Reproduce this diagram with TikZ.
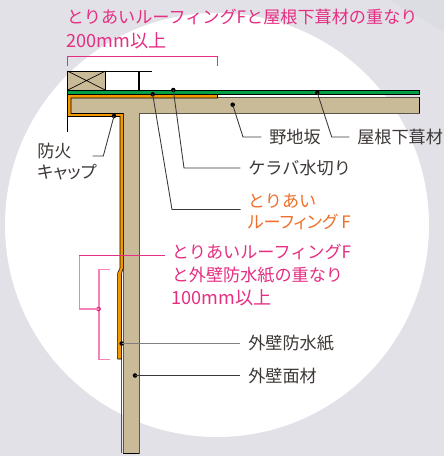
\documentclass[tikz,border=0pt]{standalone}
\usepackage{fontspec}
\setmainfont{Noto Sans CJK JP}
\definecolor{panelgray}{RGB}{225,225,231}
\definecolor{cornergray}{RGB}{220,221,226}
\definecolor{boardtan}{RGB}{201,187,152}
\definecolor{boardedge}{RGB}{94,85,72}
\definecolor{sheetgreen}{RGB}{0,160,70}
\definecolor{flashorange}{RGB}{243,152,0}
\definecolor{roofingorange}{RGB}{240,110,40}
\definecolor{notepink}{RGB}{230,46,130}
\definecolor{lightpink}{RGB}{244,130,180}
\definecolor{labelgray}{RGB}{60,56,54}
\tikzset{
	blacktext/.style={anchor=west,inner sep=0.75pt,text=labelgray,font=\fontsize{12.85pt}{14pt}\selectfont},
	pinktext/.style={blacktext,text=notepink},
	lengthtext/.style={pinktext,font=\fontsize{13.6pt}{14pt}\selectfont},
	orangetext/.style={blacktext,text=roofingorange},
	leaderdot/.style={circle,fill=black,inner sep=0pt,minimum size=3.4pt},
	leader/.style={draw=labelgray,line width=0.65pt,shorten >=5pt},
}
\begin{document}
\begin{tikzpicture}[x=0.75pt,y=0.75pt,yscale=-1,xscale=1]
		\useasboundingbox (0,0) rectangle (444,456);
		%Background
		\fill [panelgray] (0,0) rectangle (444,456);
		\fill [cornergray] (390,0) -- (444,0) -- (444,32) -- cycle;
		\fill [white] (217,225) circle (212);
		
		%Boards
		\draw [fill=boardtan,draw=boardedge,line width=0.7pt] (70,97.5) -- (419,97.5) -- (419,113.3) -- (139,113.3) -- (139,453) -- (123.3,453) -- (123.3,113.3) -- (70,113.3) -- cycle;
		\draw [black,line width=0.6pt] (419,97.5) -- (419,113.3);
		\draw [black,line width=0.6pt] (123.3,453) -- (139,453);
		%Wall sheet
		\draw [boardedge,line width=0.7pt] (121.3,272) -- (121.3,453);
		%Orange flashing
		\draw [fill=flashorange,draw=black,line width=0.4pt] (67.5,94.5) -- (217.5,94.5) -- (217.5,98) -- (71,98) -- (71,113.5) -- (123.3,113.5) -- (123.3,268) -- (121.7,273) -- (121.7,359) -- (117.7,359) -- (117.7,273) -- (120,268) -- (120,116.5) -- (67.5,116.5) -- cycle;
		%Roof sheet
		\draw [fill=sheetgreen,draw=black,line width=0.35pt] (67.5,90.2) rectangle (419,94.6);
		%Wood block
		\draw [fill=boardtan,draw=black,line width=0.6pt] (67.5,71) rectangle (105.5,90.2);
		\draw [black,line width=0.5pt] (67.5,71) -- (105.5,90.2) (67.5,90.2) -- (105.5,71);
		\draw [black,line width=0.6pt] (105.5,71) -- (152,71);
		\draw [black,line width=0.8pt] (139,71) -- (139,90.2);
		\draw [black,line width=0.6pt] (67.5,116.5) -- (67.5,132);
		
		%Overlap brackets
		\draw [notepink,line width=0.75pt] (67.5,65.7) -- (67.5,56.7) -- (217.5,56.7) -- (217.5,65.7);
		\draw [lightpink,line width=0.9pt] (110,269.3) -- (99,269.3) -- (99,359.3) -- (110,359.3);
		
		% Text Node
		\node [pinktext] (labelRoofOverlap) at (65.5,17.5) {とりあいルーフィングFと屋根下葺材の重なり};
		\node [lengthtext] (labelRoofLength) at (65.5,40.5) {200mm以上};
		\node [blacktext] (labelNoji) at (268,137) {野地坂};
		\node [blacktext] (labelUnderlay) at (356,137) {屋根下葺材};
		\node [blacktext] (labelKeraba) at (247,168) {ケラバ水切り};
		\node [orangetext] (labelTori) at (246.5,201) {とりあい};
		\node [orangetext] (labelRoofing) at (246.5,222) {\addfontfeature{RawFeature=+palt}ルーフィング F};
		\node [blacktext] (labelFire) at (36,151) {防火};
		\node [blacktext] (labelCap) at (36,172) {\addfontfeature{RawFeature=+palt}キャップ};
		\node [pinktext] (labelWallOverlap) at (170.5,252) {とりあいルーフィングF};
		\node [pinktext] (labelWallSheet) at (170.5,275) {と外壁防水紙の重なり};
		\node [lengthtext] (labelWallLength) at (170.5,298) {100mm以上};
		\node [blacktext] (labelSheet) at (247,343.5) {外壁防水紙};
		\node [blacktext] (labelFace) at (247,375.5) {外壁面材};
		
		%Leader dots
		\node [leaderdot] (dotKeraba) at (173.3,90) {};
		\node [leaderdot] (dotRoofing) at (152.7,94.3) {};
		\node [leaderdot] (dotNoji) at (232.7,104.7) {};
		\node [leaderdot] (dotUnderlay) at (317.3,92.7) {};
		\node [leaderdot] (dotFire) at (114,116) {};
		\node [leaderdot] (dotSheet) at (121.7,343.5) {};
		\node [leaderdot] (dotFace) at (135,375.5) {};
		\node [circle,fill=notepink,inner sep=0pt,minimum size=3.6pt] (dotPink) at (98.5,309) {};
		
		%Leader bends
		\coordinate (bendKeraba) at (184,168);
		\coordinate (bendRoofing) at (172,209.5);
		\coordinate (bendNoji) at (243,137);
		\coordinate (bendUnderlay) at (331.7,137);
		\coordinate (bendFire) at (103.3,156);
		\coordinate (endFire) at (92.7,156);
		\coordinate (endRoofing) at (240.5,209.5);
		\coordinate (bendPinkTop) at (79.3,255);
		\coordinate (bendPinkLow) at (79.3,309);
		\coordinate (endPink) at (165,255);
		
		%Straight Lines
		\draw [leader] (dotKeraba.center) -- (bendKeraba) -- (labelKeraba.west);
		\draw [leader,shorten >=0pt] (dotRoofing.center) -- (bendRoofing) -- (endRoofing);
		\draw [leader] (dotNoji.center) -- (bendNoji) -- (labelNoji.west);
		\draw [leader] (dotUnderlay.center) -- (bendUnderlay) -- (labelUnderlay.west);
		\draw [leader,shorten >=0pt] (dotFire.center) -- (bendFire) -- (endFire);
		\draw [leader,draw=gray,line width=1pt] (dotSheet.center) -- (labelSheet.west);
		\draw [leader] (dotFace.center) -- (labelFace.west);
		\draw [lightpink,line width=0.9pt] (dotPink.center) -- (bendPinkLow) -- (bendPinkTop);
		\draw [notepink,line width=0.75pt] (bendPinkTop) -- (endPink);
	\end{tikzpicture}
\end{document}
